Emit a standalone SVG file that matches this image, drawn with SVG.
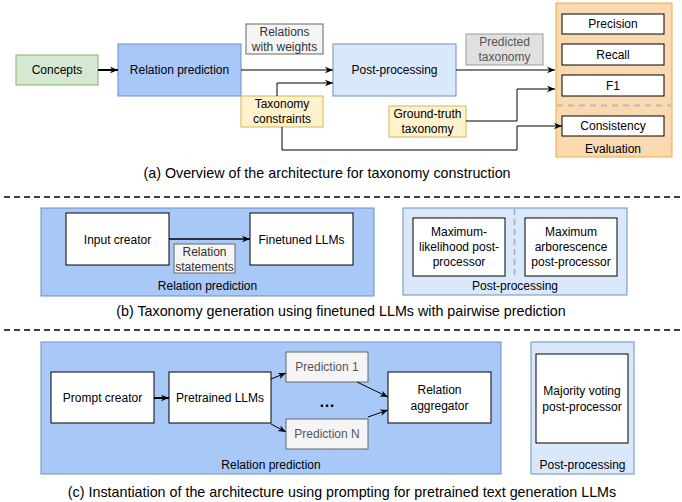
<svg xmlns="http://www.w3.org/2000/svg" width="682" height="502" viewBox="0 0 682 502">
<defs>
<marker id="arr" viewBox="0 0 10 10" refX="10" refY="5" markerWidth="8" markerHeight="8" markerUnits="userSpaceOnUse" orient="auto"><path d="M0,1 L10,5 L0,9 L3,5 z" fill="#000"/></marker>
<style>
text{font-family:"Liberation Sans",Arial,sans-serif;font-size:12px;text-anchor:middle;fill:#000}
.cap{font-size:14.3px}
.w{fill:#fff;stroke:#000;stroke-width:1}
.g{fill:#f5f5f5;stroke:#666;stroke-width:1}
.gt{fill:#333}
.dg{fill:#e0e0e0;stroke:#999;stroke-width:1}
.dgt{fill:#555}
.y{fill:#fff2cc;stroke:#d6b656;stroke-width:1}
.blue{fill:#a8c8f8;stroke:#6c8ebf;stroke-width:1}
.lblue{fill:#dae8fc;stroke:#6c8ebf;stroke-width:1}
.c{fill:none;stroke:#000;stroke-width:1;marker-end:url(#arr)}
.sep{fill:none;stroke:#000;stroke-width:1.5;stroke-dasharray:6 4}
</style>
</defs>

<!-- (a) -->
<g id="concepts"><rect x="16" y="55" width="82" height="30" fill="#d5e8d4" stroke="#82b366"/><text x="57" y="74">Concepts</text></g>
<g id="relpred-a"><rect class="blue" x="118" y="44" width="123" height="52"/><text x="179.5" y="74">Relation prediction</text></g>
<g id="relweights"><rect class="g" x="246" y="24" width="77" height="30"/><text class="gt" x="284.5" y="36">Relations</text><text class="gt" x="284.5" y="51">with weights</text></g>
<g id="postproc-a"><rect class="lblue" x="333" y="44" width="123" height="52"/><text x="394.5" y="74">Post-processing</text></g>
<g id="predtax"><rect class="dg" x="466" y="34" width="77" height="31"/><text class="dgt" x="504.5" y="46">Predicted</text><text class="dgt" x="504.5" y="61">taxonomy</text></g>
<g id="taxcons"><rect class="y" x="241" y="96" width="82" height="31"/><text x="282" y="108">Taxonomy</text><text x="282" y="123">constraints</text></g>
<g id="groundtruth"><rect class="y" x="389" y="106" width="77" height="31"/><text x="427.5" y="118">Ground-truth</text><text x="427.5" y="133">taxonomy</text></g>
<g id="evaluation">
<rect x="556" y="3" width="116" height="154" fill="#fbd9b0" stroke="#eeaa44"/>
<line x1="557" y1="105.5" x2="671" y2="105.5" stroke="#bbb" stroke-width="2" stroke-dasharray="6 5"/>
<text x="613" y="152.5">Evaluation</text>
</g>
<g id="precision"><rect class="w" x="562" y="14" width="102" height="20"/><text x="613" y="28">Precision</text></g>
<g id="recall"><rect class="w" x="562" y="44" width="102" height="21"/><text x="613" y="58.5">Recall</text></g>
<g id="f1"><rect class="w" x="562" y="75" width="102" height="21"/><text x="613" y="89.5">F1</text></g>
<g id="consistency"><rect class="w" x="562" y="116" width="102" height="20"/><text x="613" y="130">Consistency</text></g>
<text class="cap" x="327" y="178">(a) Overview of the architecture for taxonomy construction</text>

<line class="sep" x1="4" y1="197" x2="680" y2="197"/>

<!-- (b) -->
<g id="relpred-b"><rect class="blue" x="41" y="208" width="333" height="88"/><text x="207.5" y="290">Relation prediction</text></g>
<g id="inputcreator"><rect class="w" x="66" y="213" width="103" height="52"/><text x="117.5" y="243.5">Input creator</text></g>
<g id="finetuned"><rect class="w" x="250" y="213" width="103" height="52"/><text x="301.5" y="243.5">Finetuned LLMs</text></g>
<g id="relstatements"><rect class="g" x="174" y="244" width="61" height="29"/><text class="gt" x="204.5" y="256">Relation</text><text class="gt" x="204.5" y="271">statements</text></g>
<g id="postproc-b"><rect class="lblue" x="403" y="208" width="224" height="87"/>
<line x1="514.5" y1="209" x2="514.5" y2="277" stroke="#aaa" stroke-width="1.5" stroke-dasharray="6 4"/>
<text x="515" y="290">Post-processing</text></g>
<g id="maxlik"><rect class="w" x="413" y="218" width="92" height="58"/><text x="459" y="236">Maximum-</text><text x="459" y="251">likelihood post-</text><text x="459" y="266">processor</text></g>
<g id="maxarb"><rect class="w" x="525" y="218" width="92" height="58"/><text x="571" y="236">Maximum</text><text x="571" y="251">arborescence</text><text x="571" y="266">post-processor</text></g>
<text class="cap" x="341" y="316">(b) Taxonomy generation using finetuned LLMs with pairwise prediction</text>

<line class="sep" x1="4" y1="330" x2="680" y2="330"/>

<!-- (c) -->
<g id="relpred-c"><rect class="blue" x="41" y="342" width="460" height="132"/><text x="271" y="469">Relation prediction</text></g>
<g id="promptcreator"><rect class="w" x="51" y="372" width="103" height="51"/><text x="102.5" y="402">Prompt creator</text></g>
<g id="pretrained"><rect class="w" x="169" y="372" width="102" height="51"/><text x="220" y="402">Pretrained LLMs</text></g>
<g id="pred1"><rect class="g" x="286" y="352" width="82" height="30"/><text class="dgt" x="327" y="371">Prediction 1</text></g>
<g id="predN"><rect class="g" x="286" y="419" width="82" height="30"/><text class="dgt" x="327" y="438">Prediction N</text></g>
<text x="327" y="407" style="font-size:16px;font-weight:bold">…</text>
<g id="aggregator"><rect class="w" x="388" y="372" width="103" height="51"/><text x="439.5" y="394">Relation</text><text x="439.5" y="410">aggregator</text></g>
<g id="postproc-c"><rect class="lblue" x="531" y="342" width="103" height="132"/><text x="582.5" y="469">Post-processing</text></g>
<g id="majority"><rect class="w" x="536" y="354" width="92" height="89"/><text x="582" y="395">Majority voting</text><text x="582" y="411">post-processor</text></g>
<text class="cap" x="342" y="497">(c) Instantiation of the architecture using prompting for pretrained text generation LLMs</text>

<g id="connectors">
<path class="c" d="M98,70 H118" style="stroke-width:2"/>
<path class="c" d="M241,70 H333"/>
<path class="c" d="M277,96 V83 H333"/>
<path class="c" d="M282,127 V150 H517 V126 H562"/>
<path class="c" d="M456,70 H555"/>
<path class="c" d="M466,121 H517 V89 H555"/>
<path class="c" d="M169,239 H250" style="stroke-width:1.5"/>
<path class="c" d="M154,398 H169" style="stroke-width:2"/>
<path class="c" d="M271,379 L286,373"/>
<path class="c" d="M271,424 L286,432"/>
<path class="c" d="M357,382 L388,397"/>
<path class="c" d="M368,417 L388,410"/>
</g>
</svg>
